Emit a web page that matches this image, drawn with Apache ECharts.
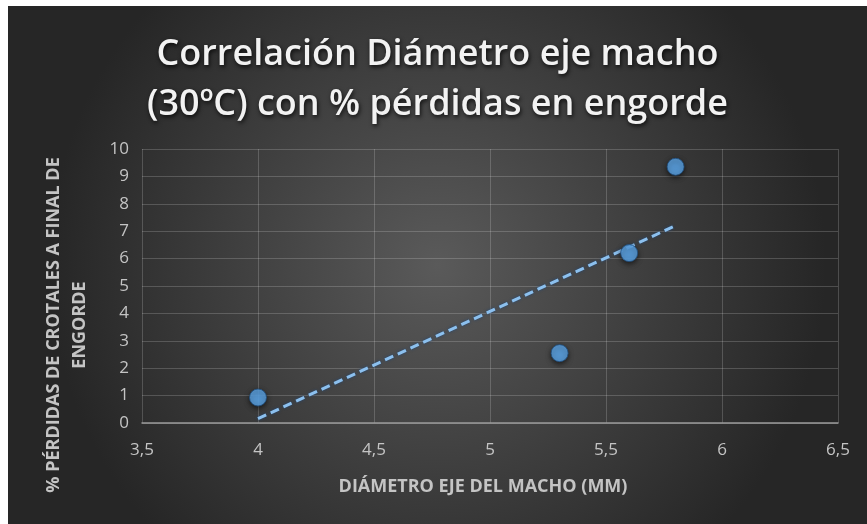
<!DOCTYPE html>
<html><head><meta charset="utf-8">
<script src="https://cdn.jsdelivr.net/npm/echarts@6/dist/echarts.min.js"></script>
<style>
html,body{margin:0;padding:0;background:#fff;width:867px;height:524px;overflow:hidden}
#c{position:absolute;left:8px;top:6px;width:859px;height:518px}
</style></head><body><div id="c"></div>
<script>
const titleText = 'Correlación Diámetro eje macho\n(30ºC) con % pérdidas en engorde';
const xAxisTitle = 'DIÁMETRO EJE DEL MACHO (MM)';
const yAxisTitle = '% PÉRDIDAS DE CROTALES A FINAL DE\nENGORDE';
const diametro = [4.0, 5.3, 5.6, 5.8];
const perdidas = [0.93, 2.55, 6.2, 9.35];
const xTicks = [3.5, 4, 4.5, 5, 5.5, 6, 6.5];
const yTicks = [0, 1, 2, 3, 4, 5, 6, 7, 8, 9, 10];

// linear trendline (least squares) from the data
const n = diametro.length;
const mx = diametro.reduce((a,b)=>a+b,0)/n;
const my = perdidas.reduce((a,b)=>a+b,0)/n;
let sxy=0, sxx=0;
for(let i=0;i<n;i++){sxy+=(diametro[i]-mx)*(perdidas[i]-my);sxx+=(diametro[i]-mx)**2;}
const slope=sxy/sxx, icpt=my-slope*mx;
const x0=Math.min(...diametro), x1=Math.max(...diametro);
const trend=[[x0,icpt+slope*x0],[x1,icpt+slope*x1]];

const chart = echarts.init(document.getElementById('c'));
const labelColor = '#c4c4c4';
chart.setOption({
  backgroundColor: {type:'radial', x:0.5, y:0.5, r:0.75,
    colorStops:[{offset:0,color:'#5a5a5a'},{offset:1,color:'#262626'}]},
  animation:false,
  title:{text:titleText, left:'center', top:19,
    textStyle:{color:'#f2f2f2', fontFamily:'Open Sans', fontWeight:600, fontSize:36, lineHeight:50,
      textShadowColor:'rgba(0,0,0,0.8)', textShadowBlur:4, textShadowOffsetX:1, textShadowOffsetY:2}},
  grid:{left:134, right:29, top:143, bottom:101},
  xAxis:{type:'value', min:xTicks[0], max:xTicks[xTicks.length-1], interval:0.5,
    axisLine:{show:true, onZero:false, lineStyle:{color:'#9a9a9a', width:1.5}},
    axisTick:{show:false},
    splitLine:{show:true, lineStyle:{color:'rgba(255,255,255,0.18)', width:1}},
    axisLabel:{color:labelColor, fontFamily:'Open Sans', fontSize:17, margin:19,
      formatter:v=>String(v).replace('.',',')}},
  yAxis:{type:'value', min:yTicks[0], max:yTicks[yTicks.length-1], interval:1,
    axisLine:{show:false}, axisTick:{show:false},
    splitLine:{show:true, lineStyle:{color:'rgba(255,255,255,0.18)', width:1}},
    axisLabel:{color:labelColor, fontFamily:'Open Sans', fontSize:17, margin:13}},
  graphic:[
    {type:'text', x:59, y:319, rotation:Math.PI/2,
      style:{text:yAxisTitle, fill:labelColor, font:'bold 18px "Open Sans"', lineHeight:26, align:'center', verticalAlign:'middle'}},
    {type:'text', x:475, y:481,
      style:{text:xAxisTitle, fill:labelColor, font:'bold 18px "Open Sans"', align:'center', verticalAlign:'middle'}}
  ],
  series:[
    {type:'line', data:trend, symbol:'none', z:2,
      lineStyle:{color:'#8cc0ee', width:3, type:[9,5], shadowColor:'rgba(30,70,120,0.9)', shadowBlur:3}},
    {type:'scatter', data:diametro.map((x,i)=>[x,perdidas[i]]), symbolSize:17, z:3,
      itemStyle:{color:'#62b0f7', borderColor:'#1f4f7f', borderWidth:1,
        shadowColor:'rgba(0,0,0,0.7)', shadowBlur:5, shadowOffsetY:2}}
  ]
});
</script></body></html>
